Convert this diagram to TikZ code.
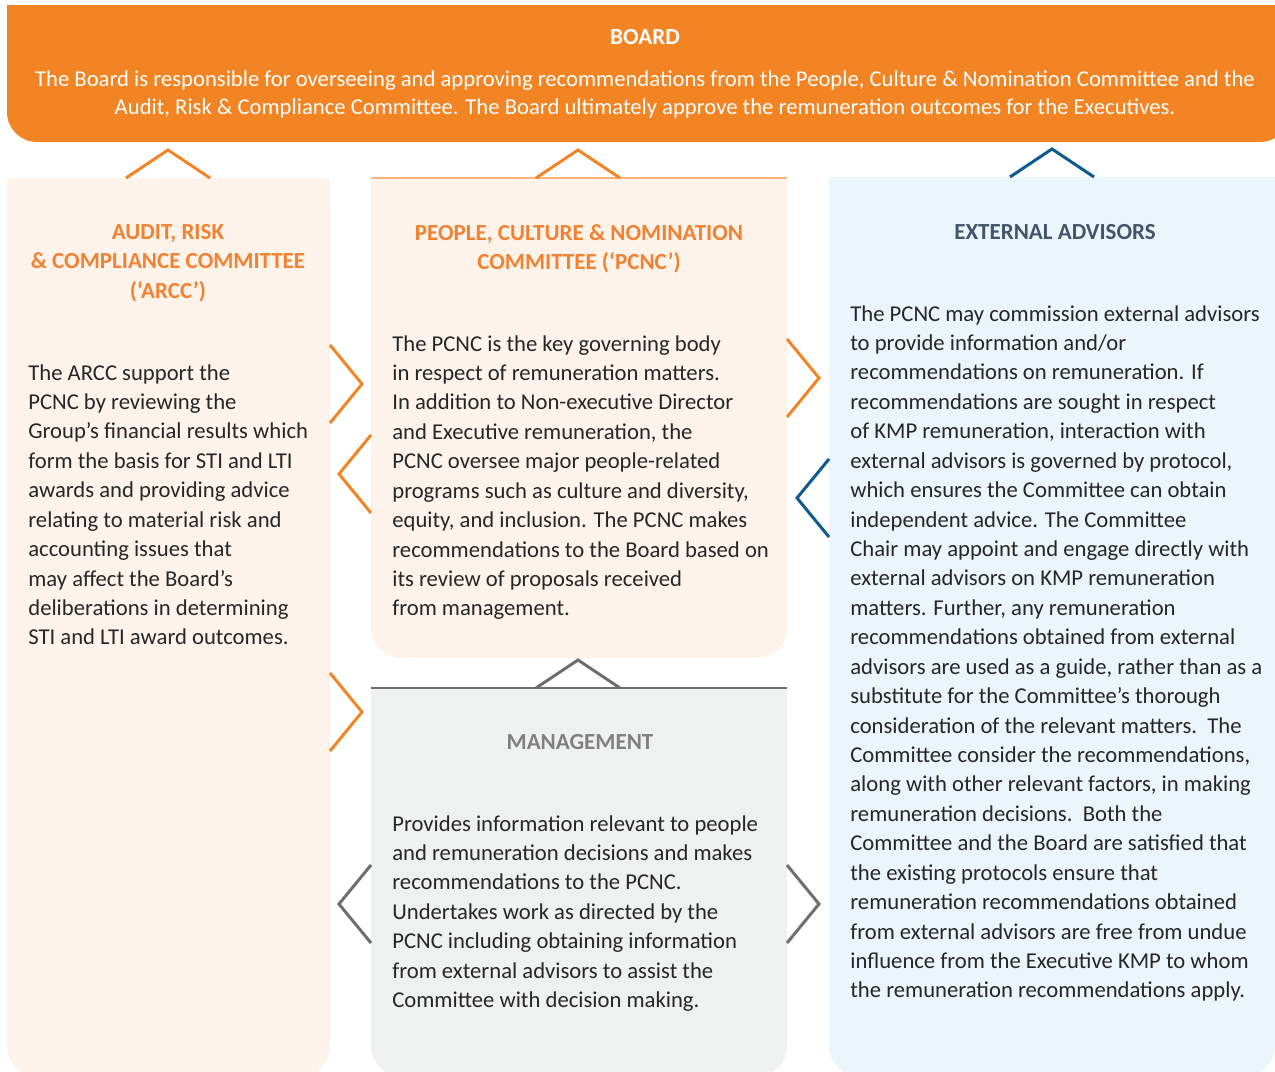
\documentclass[tikz,border=0pt]{standalone}
\usepackage{fontspec}
\setmainfont{Carlito}
\usetikzlibrary{positioning}
\definecolor{boardOrange}{HTML}{F38423}
\definecolor{headOrange}{HTML}{F08232}
\definecolor{peachFill}{HTML}{FDF3EA}
\definecolor{greyFill}{HTML}{EFF1F0}
\definecolor{blueFill}{HTML}{EBF6FC}
\definecolor{chevronBlue}{HTML}{0D5A91}
\definecolor{chevronGrey}{HTML}{6E6E6E}
\definecolor{slateText}{HTML}{44546A}
\definecolor{greyText}{HTML}{808080}
\definecolor{bodyText}{HTML}{262626}
%% A panel with square top corners and rounded bottom corners.
\newcommand{\panel}[5]{%%
  \fill[#5,rounded corners=0.6cm] (#1,#2) rectangle (#3,#4);
  \fill[#5] (#1,#2) rectangle (#3,#2+40);
}
%% Chevron pointing up, tip above the base line.
\newcommand{\upChevron}[3]{%%
  \draw[chevronStyle,#3] (#1-42,#2) -- (#1,#2-28) -- (#1+42,#2);
}
%% Chevron pointing right, out of a panel edge.
\newcommand{\rightChevron}[3]{%%
  \draw[chevronStyle,#3] (#1,#2-39) -- (#1+32,#2) -- (#1,#2+39);
}
%% Chevron pointing left, out of a panel edge.
\newcommand{\leftChevron}[3]{%%
  \draw[chevronStyle,#3] (#1,#2-39) -- (#1-32,#2) -- (#1,#2+39);
}

\begin{document}
\begin{tikzpicture}[%%
  x=0.02cm,y=-0.02cm,%%
  chevronStyle/.style={line width=1.7pt,line join=miter},%%
  headStyle/.style={anchor=north,align=center,inner sep=0pt,%%
    font=\fontsize{13.1}{16.7}\selectfont\bfseries},%%
  bodyStyle/.style={anchor=north west,align=left,inner sep=0pt,text=bodyText,%%
    font=\fontsize{12.9}{16.75}\selectfont}%%
]
\useasboundingbox (0,0) rectangle (1275,1072);
%%
%% The board across the top.
\panel{7}{5}{1290}{142}{boardOrange}
\node[headStyle,text=white] (boardHead) at (645,29) {BOARD};
\node[headStyle,text=white,font=\fontsize{12.9}{16.4}\selectfont] (boardText) at (645,70)
  {The Board is responsible for overseeing and approving recommendations from the People, Culture \& Nomination Committee and the\\
   Audit, Risk \& Compliance Committee. The Board ultimately approve the remuneration outcomes for the Executives.};
%%
%% The panels below the board.
\panel{7}{178}{330}{1076}{peachFill}
\panel{371}{178}{787}{658}{peachFill}
\panel{371}{688}{787}{1076}{greyFill}
\panel{829}{177}{1275}{1076}{blueFill}
\draw[boardOrange!60,line width=0.6pt] (371,178) -- (787,178);
\draw[chevronGrey,line width=0.9pt] (371,688) -- (787,688);
%%
%% Chevrons up to the board and between the panels.
\upChevron{168}{178}{boardOrange}
\upChevron{578}{178}{boardOrange}
\upChevron{1052}{177}{chevronBlue}
\upChevron{578}{688}{chevronGrey}
\rightChevron{330}{384}{boardOrange}
\leftChevron{371}{474}{boardOrange}
\rightChevron{330}{712}{boardOrange}
\rightChevron{787}{378}{boardOrange}
\leftChevron{829}{498}{chevronBlue}
\leftChevron{371}{904}{chevronGrey}
\rightChevron{787}{904}{chevronGrey}
%%
%% Audit, Risk & Compliance Committee.
\node[headStyle,text=headOrange] (arccHead) at (168,224)
  {AUDIT, RISK\\ \& COMPLIANCE COMMITTEE\\ (‘ARCC’)};
\node[bodyStyle] (arccText) at (28,364)
  {The ARCC support the\\
   PCNC by reviewing the\\
   Group’s financial results which\\
   form the basis for STI and LTI\\
   awards and providing advice\\
   relating to material risk and\\
   accounting issues that\\
   may affect the Board’s\\
   deliberations in determining\\
   STI and LTI award outcomes.};
%%
%% People, Culture & Nomination Committee.
\node[headStyle,text=headOrange] (pcncHead) at (579,224)
  {PEOPLE, CULTURE \& NOMINATION\\ COMMITTEE (‘PCNC’)};
\node[bodyStyle] (pcncText) at (392,335)
  {The PCNC is the key governing body\\
   in respect of remuneration matters.\\
   In addition to Non-executive Director\\
   and Executive remuneration, the\\
   PCNC oversee major people-related\\
   programs such as culture and diversity,\\
   equity, and inclusion. The PCNC makes\\
   recommendations to the Board based on\\
   its review of proposals received\\
   from management.};
%%
%% Management.
\node[headStyle,text=greyText] (mgmtHead) at (580,734) {MANAGEMENT};
\node[bodyStyle] (mgmtText) at (392,815)
  {Provides information relevant to people\\
   and remuneration decisions and makes\\
   recommendations to the PCNC.\\
   Undertakes work as directed by the\\
   PCNC including obtaining information\\
   from external advisors to assist the\\
   Committee with decision making.};
%%
%% External advisors.
\node[headStyle,text=slateText] (extHead) at (1055,224) {EXTERNAL ADVISORS};
\node[bodyStyle] (extText) at (850,305)
  {The PCNC may commission external advisors\\
   to provide information and/or\\
   recommendations on remuneration. If\\
   recommendations are sought in respect\\
   of KMP remuneration, interaction with\\
   external advisors is governed by protocol,\\
   which ensures the Committee can obtain\\
   independent advice. The Committee\\
   Chair may appoint and engage directly with\\
   external advisors on KMP remuneration\\
   matters. Further, any remuneration\\
   recommendations obtained from external\\
   advisors are used as a guide, rather than as a\\
   substitute for the Committee’s thorough\\
   consideration of the relevant matters.\ \ The\\
   Committee consider the recommendations,\\
   along with other relevant factors, in making\\
   remuneration decisions.\ \ Both the\\
   Committee and the Board are satisfied that\\
   the existing protocols ensure that\\
   remuneration recommendations obtained\\
   from external advisors are free from undue\\
   influence from the Executive KMP to whom\\
   the remuneration recommendations apply.};
\end{tikzpicture}
\end{document}
